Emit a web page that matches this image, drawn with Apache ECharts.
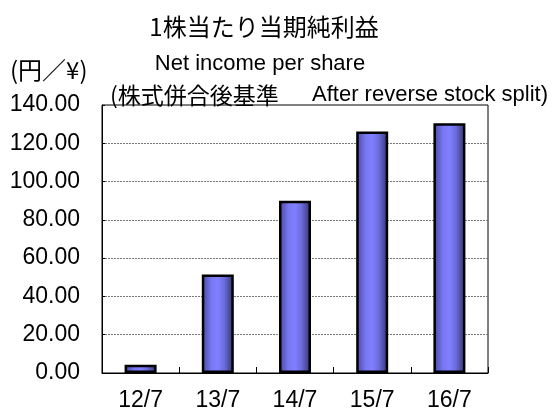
<!DOCTYPE html>
<html><head><meta charset="utf-8">
<script src="https://cdn.jsdelivr.net/npm/echarts@6/dist/echarts.min.js"></script>
<style>html,body{margin:0;background:#fff}#c{width:552px;height:412px}</style></head>
<body><div id="c"></div>
<script>
const categories = ['12/7', '13/7', '14/7', '15/7', '16/7'];
const values = [4.3, 51.5, 90.0, 126.2, 130.5];
const titleText = '1株当たり当期純利益';
const subtitleText = 'Net income per share';
const noteCjk = '(株式併合後基準';
const noteLatin = 'After reverse stock split)';
const unitText = '(円／¥)';

const chart = echarts.init(document.getElementById('c'), null, {renderer: 'canvas'});
const cjk = '"Noto Sans CJK JP", sans-serif';
const lat = '"Liberation Sans", Arial, sans-serif';
chart.setOption({
  animation: false,
  backgroundColor: '#fff',
  grid: {left: 102, right: 64, top: 105, bottom: 37, show: true, borderColor: '#000', borderWidth: 1, containLabel: false},
  graphic: [
    {type: 'text', x: 264, y: 27, style: {text: titleText, font: '24px ' + cjk, fill: '#000', textAlign: 'center', textVerticalAlign: 'middle'}},
    {type: 'text', x: 260, y: 64, style: {text: subtitleText, font: '22px ' + lat, fill: '#000', textAlign: 'center', textVerticalAlign: 'middle'}},
    {type: 'text', x: 10, y: 70, style: {text: unitText, font: '24px ' + cjk, fill: '#000', textAlign: 'left', textVerticalAlign: 'middle'}},
    {type: 'text', x: 110, y: 95, style: {text: noteCjk, font: '23px ' + cjk, fill: '#000', textAlign: 'left', textVerticalAlign: 'middle'}},
    {type: 'text', x: 548, y: 95, style: {text: noteLatin, font: '22px ' + lat, fill: '#000', textAlign: 'right', textVerticalAlign: 'middle'}}
  ],
  xAxis: {
    type: 'category', data: categories,
    axisLine: {show: true, lineStyle: {color: '#000', width: 1}},
    axisTick: {show: true, inside: true, length: 6, lineStyle: {color: '#000'}},
    axisLabel: {color: '#000', fontSize: 23, fontFamily: 'Liberation Sans', margin: 16}
  },
  yAxis: {
    type: 'value', min: 0, max: 140, interval: 20,
    axisLine: {show: true, lineStyle: {color: '#000', width: 1}},
    axisTick: {show: true, inside: true, length: 3, lineStyle: {color: '#000'}},
    axisLabel: {color: '#000', fontSize: 23, fontFamily: 'Liberation Sans', margin: 22, formatter: v => v.toFixed(2)},
    splitLine: {show: true, showMinLine: false, showMaxLine: false, lineStyle: {color: '#777', type: [2, 1], width: 1}}
  },
  series: [{
    type: 'bar', data: values, barWidth: 32,
    itemStyle: {
      borderColor: '#000', borderWidth: 2.5,
      color: new echarts.graphic.LinearGradient(0, 0, 1, 0, [
        {offset: 0, color: '#4646a0'},
        {offset: 0.3, color: '#7878f2'},
        {offset: 0.5, color: '#8080ff'},
        {offset: 0.7, color: '#6c6cdc'},
        {offset: 1, color: '#30306a'}
      ])
    }
  }]
});
</script></body></html>
